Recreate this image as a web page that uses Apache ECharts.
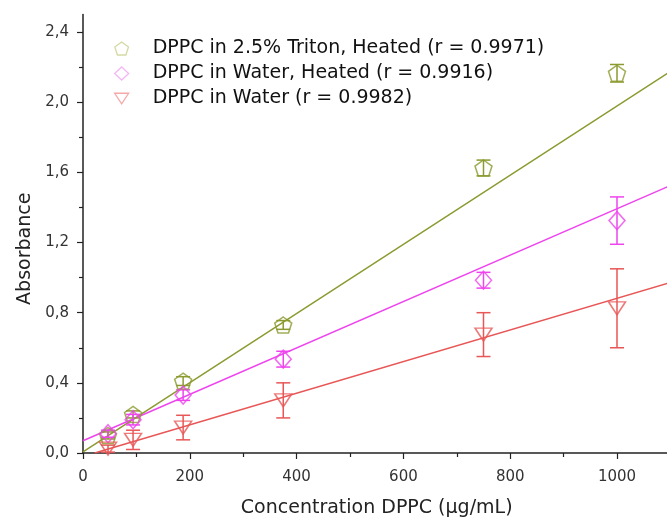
<!DOCTYPE html>
<html>
<head>
<meta charset="utf-8">
<title>DPPC absorbance</title>
<script src="https://cdn.jsdelivr.net/npm/echarts@6/dist/echarts.min.js"></script>
<style>
  html, body { margin: 0; padding: 0; background: #fff; }
  #chart { width: 667px; height: 518px; }
</style>
</head>
<body>
<div id="chart"></div>
<script>
// concentrations (µg/mL)
const conc = [46.875, 93.75, 187.5, 375, 750, 1000]

// absorbance means and errors
const tritonY = [0.10, 0.22, 0.41, 0.73, 1.625, 2.165]
const tritonErr = [0.02, 0.02, 0.025, 0.025, 0.045, 0.05]
const heatedY = [0.11, 0.19, 0.33, 0.535, 0.985, 1.325]
const heatedErr = [0.02, 0.03, 0.03, 0.045, 0.045, 0.135]
const waterY = [0.025, 0.075, 0.145, 0.30, 0.675, 0.825]
const waterErr = [0.02, 0.055, 0.07, 0.10, 0.125, 0.225]

// fitted lines, end points
const tritonFit = [[0, 0.007], [1100, 2.175]]
const heatedFit = [[0, 0.07], [1100, 1.525]]
const waterFit = [[22, 0], [1100, 0.972]]

const seriesNames = [
  'DPPC in 2.5% Triton, Heated (r = 0.9971)',
  'DPPC in Water, Heated (r = 0.9916)',
  'DPPC in Water (r = 0.9982)'
]

const yTicks = [0, 0.4, 0.8, 1.2, 1.6, 2.0, 2.4]
const xTicks = [0, 200, 400, 600, 800, 1000]

const colors = ['#8c9a30', '#ee44ee', '#e85656']
const paleColors = ['#c9cf8c', '#f3a4f3', '#f39292']

const pentagon = 'path://M0,-10 L9.51,-3.09 L5.88,8.09 L-5.88,8.09 L-9.51,-3.09 Z'
const triangleDown = 'path://M-10,-7 L10,-7 L0,8 Z'
const symbols = [pentagon, 'diamond', triangleDown]
const symbolSizes = [[17, 16], [16, 18], [17, 13]]

const font = 'DejaVu Sans, sans-serif'

const chart = echarts.init(document.getElementById('chart'))

const pairs = (ys) => conc.map((x, i) => [x, ys[i]])
const bars = (ys, errs) => conc.map((x, i) => [x, ys[i] - errs[i], ys[i] + errs[i]])

const errorBar = (color) => (params, api) => {
  const x = api.value(0)
  const lo = api.coord([x, api.value(1)])
  const hi = api.coord([x, api.value(2)])
  const w = 7
  const style = { stroke: color, lineWidth: 1.5 }
  return {
    type: 'group',
    children: [
      { type: 'line', shape: { x1: hi[0], y1: hi[1], x2: lo[0], y2: lo[1] }, style },
      { type: 'line', shape: { x1: hi[0] - w, y1: hi[1], x2: hi[0] + w, y2: hi[1] }, style },
      { type: 'line', shape: { x1: lo[0] - w, y1: lo[1], x2: lo[0] + w, y2: lo[1] }, style }
    ]
  }
}

const means = [tritonY, heatedY, waterY]
const errs = [tritonErr, heatedErr, waterErr]
const fits = [tritonFit, heatedFit, waterFit]

const series = []
fits.forEach((f, i) => {
  series.push({
    type: 'line',
    data: f,
    symbol: 'none',
    silent: true,
    lineStyle: { color: colors[i], width: 1.5 },
    z: 2
  })
})
means.forEach((ys, i) => {
  series.push({
    type: 'custom',
    renderItem: errorBar(colors[i]),
    data: bars(ys, errs[i]),
    silent: true,
    z: 3
  })
})
means.forEach((ys, i) => {
  series.push({
    name: seriesNames[i],
    type: 'scatter',
    data: pairs(ys),
    symbol: symbols[i],
    symbolSize: symbolSizes[i],
    itemStyle: { color: 'rgba(255,255,255,0)', borderColor: colors[i], borderWidth: 1.5 },
    z: 4
  })
})

const axisText = { color: '#333', fontSize: 15, fontFamily: font }

const option = {
  animation: false,
  legend: {
    orient: 'vertical',
    left: 109,
    top: 34,
    itemWidth: 14,
    itemHeight: 13,
    itemGap: 6,
    textStyle: {
      color: '#111',
      fontSize: 19,
      fontFamily: font,
      padding: [0, 0, 0, 19]
    },
    data: seriesNames.map((name, i) => ({
      name,
      icon: symbols[i],
      itemStyle: { color: 'rgba(255,255,255,0)', borderColor: paleColors[i], borderWidth: 1.3 }
    }))
  },
  grid: {
    left: 83,
    top: 14.5,
    width: 587.4,
    height: 438.5,
    outerBoundsMode: 'none'
  },
  xAxis: {
    type: 'value',
    min: 0,
    max: 1100,
    interval: 200,
    name: 'Concentration DPPC (µg/mL)',
    nameLocation: 'middle',
    nameGap: 46,
    nameTextStyle: { color: '#222', fontSize: 19, fontFamily: font },
    axisLine: { show: true, lineStyle: { color: '#222', width: 1.5 } },
    axisTick: { show: true, inside: false, length: 6, lineStyle: { color: '#222', width: 1.2 }, customValues: xTicks },
    minorTick: { show: true, splitNumber: 2, length: 4, lineStyle: { color: '#222', width: 1.2 } },
    axisLabel: { ...axisText, margin: 17, customValues: xTicks, formatter: (v) => String(v) },
    splitLine: { show: false }
  },
  yAxis: {
    type: 'value',
    min: 0,
    max: 2.5,
    interval: 0.4,
    name: 'Absorbance',
    nameLocation: 'middle',
    nameGap: 45,
    nameTextStyle: {
      color: '#222',
      fontSize: 19,
      fontFamily: font,
      padding: [0, 30, 0, 0]
    },
    axisLine: { show: true, lineStyle: { color: '#222', width: 1.5 } },
    axisTick: { show: true, inside: false, length: 6, lineStyle: { color: '#222', width: 1.2 }, customValues: yTicks },
    minorTick: { show: true, splitNumber: 2, length: 4, lineStyle: { color: '#222', width: 1.2 } },
    axisLabel: {
      ...axisText,
      margin: 14,
      customValues: yTicks,
      formatter: (v) => v.toFixed(1).replace('.', ',')
    },
    splitLine: { show: false }
  },
  series
}

chart.setOption(option)
</script>
</body>
</html>
